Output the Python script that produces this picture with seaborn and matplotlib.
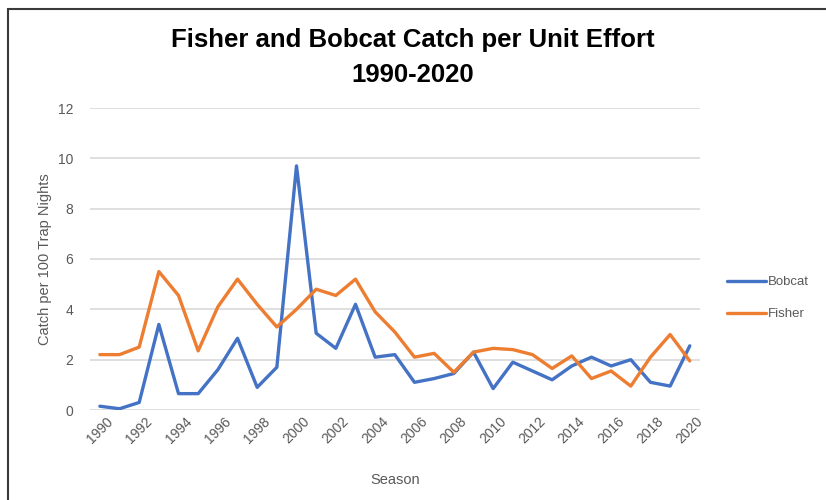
import numpy as np
import pandas as pd
import matplotlib
matplotlib.use("Agg")
import matplotlib.pyplot as plt
import seaborn as sns
from matplotlib.patches import Rectangle

# catch per 100 trap nights
seasons = list(range(1990, 2021))
bobcat = [0.15, 0.05, 0.3, 3.4, 0.65, 0.65, 1.6, 2.85, 0.9, 1.7,
          9.7, 3.05, 2.45, 4.2, 2.1, 2.2, 1.1, 1.25, 1.45, 2.3,
          0.85, 1.9, 1.55, 1.2, 1.75, 2.1, 1.75, 2.0, 1.1, 0.95, 2.55]
fisher = [2.2, 2.2, 2.5, 5.5, 4.55, 2.35, 4.1, 5.2, 4.2, 3.3,
          4.0, 4.8, 4.55, 5.2, 3.9, 3.1, 2.1, 2.25, 1.5, 2.3,
          2.45, 2.4, 2.2, 1.65, 2.15, 1.25, 1.55, 0.95, 2.1, 3.0, 1.95]
species = ["Bobcat", "Fisher"]
colors = ["#4472C4", "#ED7D31"]
y_ticks = [0, 2, 4, 6, 8, 10, 12]

df = pd.DataFrame({"Season": seasons, "Bobcat": bobcat, "Fisher": fisher})
long = df.melt(id_vars="Season", var_name="Species", value_name="CPUE")

sns.set_style("white")
plt.rcParams["font.family"] = ["Liberation Sans", "DejaVu Sans"]

fig = plt.figure(figsize=(8.26, 5), dpi=100)
ax = fig.add_axes([0.109, 0.18, 0.738, 0.604])

sns.lineplot(data=long, x="Season", y="CPUE", hue="Species",
             hue_order=species, palette=colors, linewidth=2.4, ax=ax)

ax.set_xlim(1989.5, 2020.5)
ax.set_ylim(0, 12)
ax.set_yticks(y_ticks)
ax.set_xticks(seasons[::2])
ax.set_xticklabels([str(s) for s in seasons[::2]], rotation=45,
                   color="#595959", fontsize=10)
ax.tick_params(axis="y", colors="#595959", labelsize=10, length=0, pad=12)
ax.tick_params(axis="x", length=0, pad=3)
ax.yaxis.grid(True, color="#D9D9D9", linewidth=1.2)
ax.set_axisbelow(True)
for s in ax.spines.values():
    s.set_visible(False)

ax.set_xlabel("Season", color="#595959", fontsize=10.5, labelpad=19)
ax.set_ylabel("Catch per 100 Trap Nights", color="#595959", fontsize=10.5,
              labelpad=4)

leg = ax.legend(loc="center left", bbox_to_anchor=(1.025, 0.37),
                frameon=False, fontsize=9.5, labelspacing=1.5,
                handlelength=3.0, handletextpad=0.1)
for t in leg.get_texts():
    t.set_color("#595959")

fig.text(0.5, 0.885, "Fisher and Bobcat Catch per Unit Effort\n1990-2020",
         ha="center", va="center", fontsize=18.5, fontweight="bold",
         color="black", linespacing=1.55)

# outer frame, running off the right and bottom edges
fig.patches.append(Rectangle((8 / 826, -0.1), 1.0, 1 - 9 / 500 + 0.1,
                             transform=fig.transFigure, fill=False,
                             edgecolor="#3A3A3A", linewidth=1.5))

fig.savefig("out.png", dpi=100)
